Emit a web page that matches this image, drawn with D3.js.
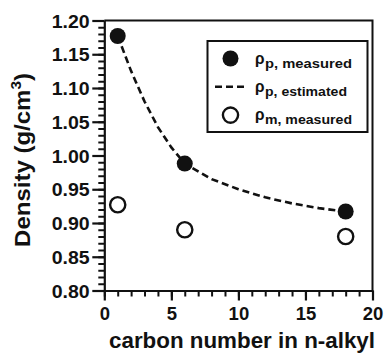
<!DOCTYPE html>
<html><head><meta charset="utf-8">
<script src="https://cdn.jsdelivr.net/npm/d3@7"></script>
<style>
html,body{margin:0;padding:0;background:#fff;}
svg{display:block;}
text{font-family:"Liberation Sans",Arial,Helvetica,sans-serif;font-weight:bold;fill:#111;}
</style></head>
<body>
<script>
// ---- data ----
const carbonNumbers = [1, 6, 18];
const rhoPMeasured = [1.177, 0.988, 0.917];
const rhoMMeasured = [0.927, 0.890, 0.880];
const estCarbon = [1, 2, 3, 4, 5, 6, 8, 10, 12, 14, 16, 18];
const rhoPEstimated = [1.177, 1.125, 1.080, 1.042, 1.012, 0.988, 0.965, 0.950, 0.938, 0.929, 0.922, 0.917];
const xTicks = [0, 5, 10, 15, 20];
const xMinorTicks = d3.range(0, 21, 1);
const yTicks = [0.80, 0.85, 0.90, 0.95, 1.00, 1.05, 1.10, 1.15, 1.20];
const yMinorTicks = d3.range(80, 121, 1).map(v => v / 100);
const legendItems = [
  {type: "filled", sub: "p, measured", w: 87},
  {type: "dash", sub: "p, estimated", w: 82},
  {type: "open", sub: "m, measured", w: 87}
];

(function () {
const W = 385, H = 354;
const pL = 104.3, pR = 372.5, pT = 20.5, pB = 290.5;
const svg = d3.select("body").append("svg").attr("width", W).attr("height", H);

const x = d3.scaleLinear().domain([0, 20]).range([pL, pR]);
const y = d3.scaleLinear().domain([0.80, 1.20]).range([pB, pT]);

const ink = "#111";

// frame (top & right)
svg.append("path")
  .attr("d", `M${pL},${pT}H${pR}V${pB}`)
  .attr("fill", "none").attr("stroke", ink).attr("stroke-width", 2);

// minor ticks
const yMinor = svg.append("g").attr("transform", `translate(${pL},0)`)
  .call(d3.axisLeft(y).tickValues(yMinorTicks).tickSize(6).tickSizeOuter(0).tickFormat(""));
const xMinor = svg.append("g").attr("transform", `translate(0,${pB})`)
  .call(d3.axisBottom(x).tickValues(xMinorTicks).tickSize(6).tickSizeOuter(0).tickFormat(""));
[yMinor, xMinor].forEach(g => {
  g.select(".domain").remove();
  g.selectAll("line").attr("stroke", ink).attr("stroke-width", 2);
});

// major axes
const yAxis = svg.append("g").attr("transform", `translate(${pL},0)`)
  .call(d3.axisLeft(y).tickValues(yTicks).tickSize(12).tickSizeOuter(0).tickFormat(d3.format(".2f")));
const xAxis = svg.append("g").attr("transform", `translate(0,${pB})`)
  .call(d3.axisBottom(x).tickValues(xTicks).tickSize(10).tickSizeOuter(0).tickFormat(d3.format("d")));
[yAxis, xAxis].forEach(g => {
  g.attr("font-family", null).attr("font-size", null);
  g.select(".domain").attr("stroke", ink).attr("stroke-width", 2.2);
  g.selectAll("line").attr("stroke", ink).attr("stroke-width", 2.2);
  g.selectAll("text").attr("fill", ink);
});
yAxis.selectAll("text")
  .attr("font-size", 18.5).attr("dy", "0.36em").attr("x", -14.6)
  .attr("textLength", 38).attr("lengthAdjust", "spacingAndGlyphs");
xAxis.selectAll("text")
  .attr("font-size", 18.5).attr("dy", 0).attr("y", 29.5);

// estimated curve
const line = d3.line().x((d, i) => x(estCarbon[i])).y(d => y(d)).curve(d3.curveLinear);
svg.append("path").datum(rhoPEstimated)
  .attr("d", line).attr("fill", "none").attr("stroke", ink)
  .attr("stroke-width", 2.6).attr("stroke-dasharray", "7,4");

// markers
svg.append("g").selectAll("circle").data(rhoPMeasured).join("circle")
  .attr("cx", (d, i) => x(carbonNumbers[i])).attr("cy", d => y(d))
  .attr("r", 8).attr("fill", ink);
svg.append("g").selectAll("circle").data(rhoMMeasured).join("circle")
  .attr("cx", (d, i) => x(carbonNumbers[i])).attr("cy", d => y(d))
  .attr("r", 7.6).attr("fill", "#fff").attr("stroke", ink).attr("stroke-width", 2.4);

// legend
const lg = svg.append("g");
lg.append("rect").attr("x", 207.5).attr("y", 41).attr("width", 160).attr("height", 91)
  .attr("fill", "#fff").attr("stroke", ink).attr("stroke-width", 2);
legendItems.forEach((it, i) => {
  const cy = 58.5 + i * 28.3;
  if (it.type === "filled") {
    lg.append("circle").attr("cx", 230.5).attr("cy", cy).attr("r", 8).attr("fill", ink);
  } else if (it.type === "open") {
    lg.append("circle").attr("cx", 230.5).attr("cy", cy).attr("r", 7.6)
      .attr("fill", "#fff").attr("stroke", ink).attr("stroke-width", 2.4);
  } else {
    lg.append("line").attr("x1", 215).attr("x2", 244).attr("y1", cy).attr("y2", cy)
      .attr("stroke", ink).attr("stroke-width", 2.6).attr("stroke-dasharray", "7,4");
  }
  lg.append("text").attr("x", 255).attr("y", cy + 5).attr("font-size", 17)
    .attr("textLength", 9.5).attr("lengthAdjust", "spacingAndGlyphs").text("ρ");
  lg.append("text").attr("x", 265).attr("y", cy + 9).attr("font-size", 13)
    .attr("textLength", it.w).attr("lengthAdjust", "spacingAndGlyphs").text(it.sub);
});

// axis titles
svg.append("text").attr("x", 242).attr("y", 347.5).attr("text-anchor", "middle")
  .attr("font-size", 22).attr("textLength", 266).attr("lengthAdjust", "spacingAndGlyphs")
  .text("carbon number in n-alkyl");

const yl = svg.append("text").attr("text-anchor", "middle").attr("font-size", 22);
yl.append("tspan").text("Density (g/cm");
yl.append("tspan").attr("font-size", 14).attr("dy", -9).text("3");
yl.append("tspan").attr("dy", 9).text(")");
const bw = yl.node().getBBox().width;
yl.attr("transform", `translate(30,160) rotate(-90) scale(${174 / bw},1)`);
})();
</script>
</body></html>
